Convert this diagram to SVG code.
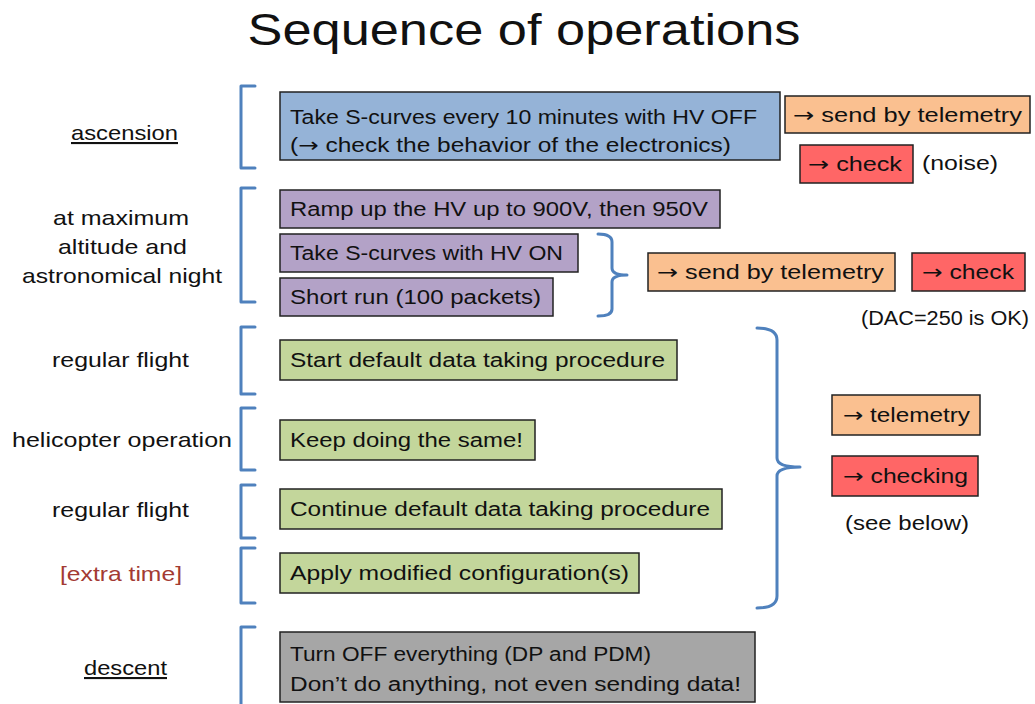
<svg xmlns="http://www.w3.org/2000/svg" width="1035" height="704" viewBox="0 0 1035 704">
<style>
  text { font-family: "Liberation Sans", "DejaVu Sans", sans-serif; fill: #111; }
  .title { font-size: 44px; }
  .lbl { font-size: 21px; text-anchor: middle; }
  .bt { font-size: 20px; }
  .ar { font-family: "DejaVu Sans", sans-serif; }
  .box { stroke: #222; stroke-width: 1.5; }
  .blue { fill: #95b3d7; }
  .purple { fill: #b3a2c7; }
  .green { fill: #c3d69b; }
  .orange { fill: #fac090; }
  .red { fill: #ff6666; }
  .gray { fill: #a6a6a6; }
  .br { fill: none; stroke: #4f81bd; stroke-width: 3; stroke-linecap: round; stroke-linejoin: round; }
  .ul { text-decoration: underline; }
</style>

<text class="title" x="524" y="45" text-anchor="middle" textLength="553" lengthAdjust="spacingAndGlyphs">Sequence of operations</text>

<g id="labels">
  <text class="lbl ul" x="124.5" y="140" textLength="107" lengthAdjust="spacingAndGlyphs">ascension</text>
  <text class="lbl" x="121" y="225" textLength="136" lengthAdjust="spacingAndGlyphs">at maximum</text>
  <text class="lbl" x="122.5" y="254" textLength="129" lengthAdjust="spacingAndGlyphs">altitude and</text>
  <text class="lbl" x="122" y="283" textLength="200" lengthAdjust="spacingAndGlyphs">astronomical night</text>
  <text class="lbl" x="120.5" y="367" textLength="137" lengthAdjust="spacingAndGlyphs">regular flight</text>
  <text class="lbl" x="122" y="447" textLength="220" lengthAdjust="spacingAndGlyphs">helicopter operation</text>
  <text class="lbl" x="120.5" y="517" textLength="137" lengthAdjust="spacingAndGlyphs">regular flight</text>
  <text class="lbl" x="121" y="581" style="fill:#a33a33" textLength="122" lengthAdjust="spacingAndGlyphs">[extra time]</text>
  <text class="lbl ul" x="125.5" y="675" textLength="83" lengthAdjust="spacingAndGlyphs">descent</text>
</g>

<g id="connectors">
  <path class="br" d="M255,86 H241 V168 H255"/>
  <path class="br" d="M255,188 H241 V302 H255"/>
  <path class="br" d="M255,327 H241 V394 H255"/>
  <path class="br" d="M255,408 H241 V470 H255"/>
  <path class="br" d="M255,485 H241 V538 H255"/>
  <path class="br" d="M255,548 H241 V603 H255"/>
  <path class="br" d="M255,627 H241 V706"/>
  <path class="br" d="M598,234 Q612,234 612,242 V268 Q612,275 627,275 Q612,275 612,282 V309 Q612,316 598,316"/>
  <path class="br" d="M757,328 Q777,328 777,340 V458 Q777,467 800,467 Q777,467 777,476 V596 Q777,608 757,608"/>
</g>

<g id="n-ascension">
  <rect class="box blue" x="280" y="92" width="500" height="68"/>
  <text class="bt" x="290" y="124" textLength="467" lengthAdjust="spacingAndGlyphs">Take S-curves every 10 minutes with HV OFF</text>
  <text class="bt" x="290" y="152" textLength="441" lengthAdjust="spacingAndGlyphs">(<tspan class="ar">→</tspan> check the behavior of the electronics)</text>
</g>
<g id="n-tel1">
  <rect class="box orange" x="785" y="96" width="245" height="37"/>
  <text class="bt" x="793" y="122" textLength="229" lengthAdjust="spacingAndGlyphs"><tspan class="ar">→</tspan> send by telemetry</text>
</g>
<g id="n-check1">
  <rect class="box red" x="800" y="145" width="113" height="38"/>
  <text class="bt" x="808" y="171" textLength="94" lengthAdjust="spacingAndGlyphs"><tspan class="ar">→</tspan> check</text>
  <text class="bt" x="922" y="170" textLength="76" lengthAdjust="spacingAndGlyphs">(noise)</text>
</g>

<g id="n-ramp">
  <rect class="box purple" x="280" y="190" width="440" height="38"/>
  <text class="bt" x="290" y="216" textLength="418" lengthAdjust="spacingAndGlyphs">Ramp up the HV up to 900V, then 950V</text>
</g>
<g id="n-scurves">
  <rect class="box purple" x="280" y="234" width="298" height="38"/>
  <text class="bt" x="290" y="260" textLength="273" lengthAdjust="spacingAndGlyphs">Take S-curves with HV ON</text>
</g>
<g id="n-short">
  <rect class="box purple" x="280" y="278" width="273" height="38"/>
  <text class="bt" x="290" y="304" textLength="251" lengthAdjust="spacingAndGlyphs">Short run (100 packets)</text>
</g>
<g id="n-tel2">
  <rect class="box orange" x="648" y="253" width="247" height="38"/>
  <text class="bt" x="657" y="279" textLength="227" lengthAdjust="spacingAndGlyphs"><tspan class="ar">→</tspan> send by telemetry</text>
</g>
<g id="n-check2">
  <rect class="box red" x="912" y="253" width="113" height="38"/>
  <text class="bt" x="922" y="279" textLength="92" lengthAdjust="spacingAndGlyphs"><tspan class="ar">→</tspan> check</text>
  <text class="bt" x="861" y="325" textLength="168" lengthAdjust="spacingAndGlyphs">(DAC=250 is OK)</text>
</g>

<g id="n-start">
  <rect class="box green" x="280" y="340" width="397" height="40"/>
  <text class="bt" x="290" y="367" textLength="375" lengthAdjust="spacingAndGlyphs">Start default data taking procedure</text>
</g>
<g id="n-keep">
  <rect class="box green" x="280" y="420" width="255" height="40"/>
  <text class="bt" x="290" y="447" textLength="233" lengthAdjust="spacingAndGlyphs">Keep doing the same!</text>
</g>
<g id="n-continue">
  <rect class="box green" x="280" y="489" width="442" height="40"/>
  <text class="bt" x="290" y="516" textLength="420" lengthAdjust="spacingAndGlyphs">Continue default data taking procedure</text>
</g>
<g id="n-apply">
  <rect class="box green" x="280" y="553" width="359" height="40"/>
  <text class="bt" x="290" y="580" textLength="339" lengthAdjust="spacingAndGlyphs">Apply modified configuration(s)</text>
</g>

<g id="n-tel3">
  <rect class="box orange" x="832" y="395" width="148" height="40"/>
  <text class="bt" x="843" y="422" textLength="127" lengthAdjust="spacingAndGlyphs"><tspan class="ar">→</tspan> telemetry</text>
</g>
<g id="n-check3">
  <rect class="box red" x="832" y="456" width="146" height="40"/>
  <text class="bt" x="843" y="483" textLength="125" lengthAdjust="spacingAndGlyphs"><tspan class="ar">→</tspan> checking</text>
  <text class="bt" x="845" y="530" textLength="124" lengthAdjust="spacingAndGlyphs">(see below)</text>
</g>

<g id="n-descent">
  <rect class="box gray" x="280" y="632" width="475" height="70"/>
  <text class="bt" x="290" y="661" textLength="361" lengthAdjust="spacingAndGlyphs">Turn OFF everything (DP and PDM)</text>
  <text class="bt" x="290" y="691" textLength="451" lengthAdjust="spacingAndGlyphs">Don’t do anything, not even sending data!</text>
</g>
</svg>
